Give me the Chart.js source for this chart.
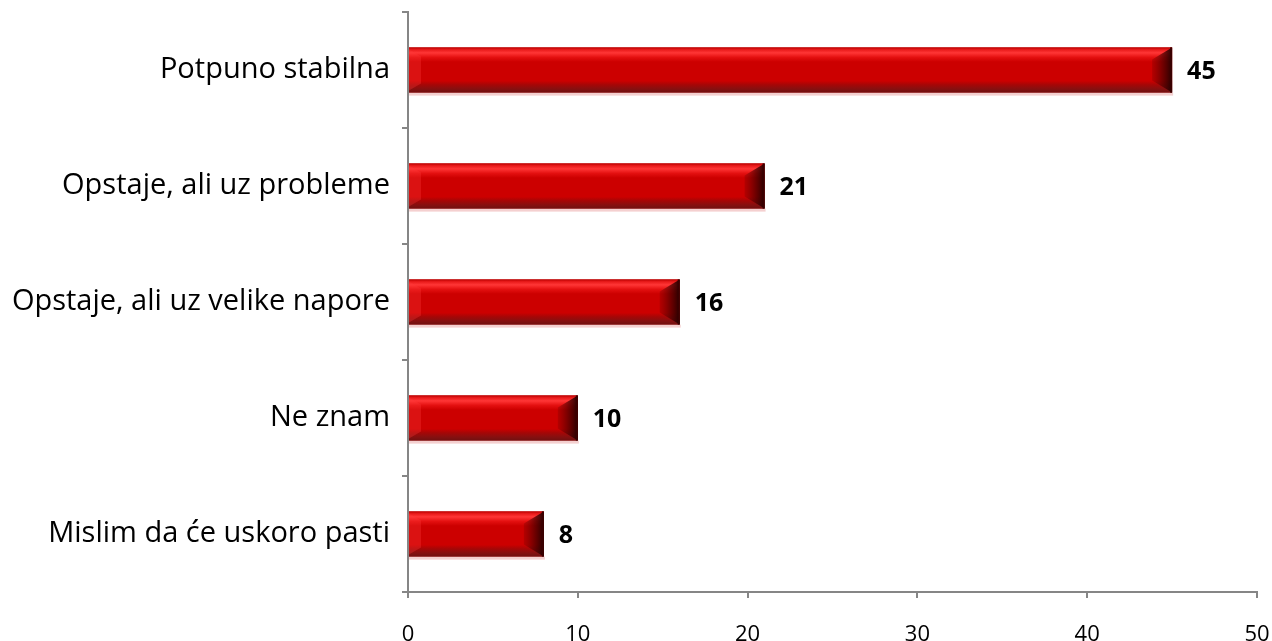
<!DOCTYPE html>
<html>
<head>
<meta charset="utf-8">
<script src="https://cdn.jsdelivr.net/npm/chart.js@4/dist/chart.umd.min.js"></script>
<style>
  html, body { margin: 0; padding: 0; background: #fff; }
  #wrap { width: 1272px; height: 641px; }
</style>
</head>
<body>
<div id="wrap"><canvas id="c" width="1272" height="641"></canvas></div>
<script>
const categories = ["Potpuno stabilna", "Opstaje, ali uz probleme", "Opstaje, ali uz velike napore", "Ne znam", "Mislim da će uskoro pasti"];
const values = [45, 21, 16, 10, 8];
const xTicks = [0, 10, 20, 30, 40, 50];

const FONT = "'Open Sans', 'Liberation Sans', Arial, sans-serif";

const bevelPlugin = {
  id: 'bevel',
  afterDatasetsDraw(chart) {
    const ctx = chart.ctx;
    const meta = chart.getDatasetMeta(0);
    meta.data.forEach((bar) => {
      const p = bar.getProps(['x', 'y', 'base', 'height'], true);
      const top = p.y - p.height / 2, bot = p.y + p.height / 2;
      const left = p.base, right = p.x;
      const h = bot - top;
      ctx.save();
      ctx.fillStyle = 'rgba(230,150,150,0.45)';
      ctx.fillRect(left, bot, right - left + 1, 3);
      const g = ctx.createLinearGradient(0, top, 0, bot);
      g.addColorStop(0, '#b80000');
      g.addColorStop(0.05, '#e81a1a');
      g.addColorStop(0.12, '#ff3636');
      g.addColorStop(0.22, '#e41010');
      g.addColorStop(0.32, '#cc0000');
      g.addColorStop(0.74, '#cc0000');
      g.addColorStop(0.82, '#a80606');
      g.addColorStop(0.92, '#861010');
      g.addColorStop(1, '#701010');
      ctx.fillStyle = g;
      ctx.fillRect(left, top, right - left, h);
      const bl = Math.min(12, (right - left) / 3);
      ctx.fillStyle = 'rgba(255,60,60,0.3)';
      ctx.beginPath();
      ctx.moveTo(left, top + 2);
      ctx.lineTo(left + bl, top + bl * 0.75);
      ctx.lineTo(left + bl, bot - bl * 0.75);
      ctx.lineTo(left, bot - 2);
      ctx.closePath();
      ctx.fill();
      const b = Math.min(h * 0.45, 20);
      const gr = ctx.createLinearGradient(right - b, 0, right, 0);
      gr.addColorStop(0, 'rgba(110,0,0,0.25)');
      gr.addColorStop(0.55, 'rgba(80,0,0,0.75)');
      gr.addColorStop(1, 'rgba(30,0,0,0.95)');
      ctx.fillStyle = gr;
      ctx.beginPath();
      ctx.moveTo(right, top);
      ctx.lineTo(right, bot);
      ctx.lineTo(right - b, bot - b * 0.6);
      ctx.lineTo(right - b, top + b * 0.6);
      ctx.closePath();
      ctx.fill();
      ctx.fillStyle = '#3a0000';
      ctx.fillRect(right - 2, top, 2, h);
      ctx.restore();
    });
  }
};

const labelPlugin = {
  id: 'valueLabels',
  afterDatasetsDraw(chart) {
    const ctx = chart.ctx;
    const meta = chart.getDatasetMeta(0);
    ctx.save();
    ctx.font = "bold 25px " + FONT;
    ctx.fillStyle = '#000';
    ctx.textAlign = 'left';
    ctx.textBaseline = 'middle';
    meta.data.forEach((bar, i) => {
      const p = bar.getProps(['x', 'y'], true);
      ctx.fillText(String(values[i]), p.x + 15, p.y + 2);
    });
    ctx.restore();
  }
};

new Chart(document.getElementById('c'), {
  type: 'bar',
  data: {
    labels: categories,
    datasets: [{
      data: values,
      backgroundColor: '#cc0000',
      borderWidth: 0,
      categoryPercentage: 1.0,
      barPercentage: 0.39
    }]
  },
  options: {
    indexAxis: 'y',
    responsive: false,
    animation: false,
    devicePixelRatio: 1,
    layout: { padding: { top: 12, right: 15, left: 0, bottom: 0 } },
    plugins: { legend: { display: false }, tooltip: { enabled: false } },
    scales: {
      x: {
        type: 'linear',
        min: xTicks[0],
        max: xTicks[xTicks.length - 1],
        afterBuildTicks(scale) { scale.ticks = xTicks.map(v => ({ value: v })); },
        afterFit(scale) { scale.height = 49; scale.paddingLeft = 0; scale.paddingRight = 0; },
        border: { display: true, color: '#868686', width: 2 },
        grid: { drawOnChartArea: false, drawTicks: true, tickLength: 6, color: '#868686', lineWidth: 2 },
        ticks: { color: '#000', font: { family: FONT, size: 22 }, padding: 24 }
      },
      y: {
        type: 'category',
        offset: true,
        afterFit(scale) { scale.width = 408; scale.paddingTop = 0; scale.paddingBottom = 0; },
        border: { display: true, color: '#868686', width: 2 },
        grid: { offset: true, drawOnChartArea: false, drawTicks: true, tickLength: 6, color: '#868686', lineWidth: 2 },
        ticks: { color: '#000', font: { family: FONT, size: 29 }, padding: 12 }
      }
    }
  },
  plugins: [bevelPlugin, labelPlugin]
});
</script>
</body>
</html>
